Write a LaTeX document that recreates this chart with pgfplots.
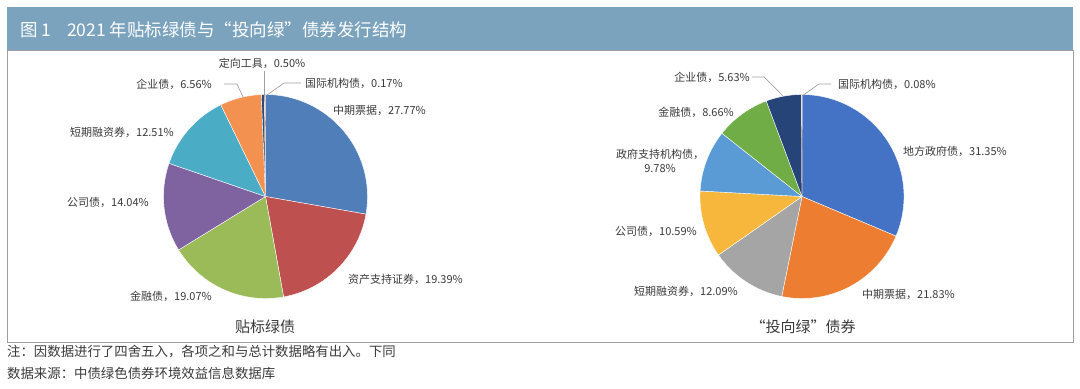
\documentclass[border=0pt]{standalone}
\usepackage{pgfplots}
\pgfplotsset{compat=1.18}
\usepackage{fontspec}
\setmainfont{Noto Sans CJK SC}
\definecolor{barbg}{HTML}{7BA3BE}
\definecolor{labc}{HTML}{3A3A3A}
\definecolor{leadc}{HTML}{A0A0A0}
% left pie
\definecolor{cA1}{HTML}{4F7EB9}
\definecolor{cA2}{HTML}{BE5050}
\definecolor{cA3}{HTML}{9BBB59}
\definecolor{cA4}{HTML}{7F63A1}
\definecolor{cA5}{HTML}{4BACC6}
\definecolor{cA6}{HTML}{F39250}
\definecolor{cA7}{HTML}{2C4D75}
\definecolor{cA8}{HTML}{772C2A}
% right pie
\definecolor{cB1}{HTML}{4472C4}
\definecolor{cB2}{HTML}{ED7D31}
\definecolor{cB3}{HTML}{A5A5A5}
\definecolor{cB4}{HTML}{F6B73C}
\definecolor{cB5}{HTML}{5B9BD5}
\definecolor{cB6}{HTML}{70AD47}
\definecolor{cB7}{HTML}{264478}
\definecolor{cB8}{HTML}{9E480E}

% \pie{cx}{cy}{r}{pct/colour,...}  (clockwise from 12 o'clock)
\newcommand\pie[4]{%
  \xdef\cum{0}%
  \foreach \p/\c in {#4} {%
    \pgfmathsetmacro\a{90-3.6*\cum}%
    \pgfmathsetmacro\b{90-3.6*(\cum+\p)}%
    \edef\temp{\noexpand\addplot[fill=\c, draw=white, line width=0.4pt, no markers,
        domain=\b:\a, samples=80, variable=\noexpand\t]
        ({#1+#3*cos(\noexpand\t)}, {#2-#3*sin(\noexpand\t)}) -- (axis cs:#1,#2) -- cycle;}%
    \temp
    \pgfmathsetmacro\newcum{\cum+\p}%
    \xdef\cum{\newcum}%
  }%
}

\begin{document}
\begin{tikzpicture}[
  lab/.style={inner sep=0pt, text=labc, font=\fontsize{11bp}{14bp}\selectfont},
  ttl/.style={inner sep=0pt, text=labc, font=\fontsize{15bp}{18bp}\selectfont},
  note/.style={inner sep=0pt, text=labc, font=\fontsize{13.4bp}{16bp}\selectfont},
  lead/.style={draw=leadc, line width=0.7pt}]
\begin{axis}[scale only axis, width=1080bp, height=388bp,
  xmin=0, xmax=1080, ymin=0, ymax=388, y dir=reverse,
  axis lines=none, ticks=none, clip=false]

% full canvas (bounding box)
\path (axis cs:0,0) rectangle (axis cs:1080,388);

% title bar and panel
\fill[barbg] (axis cs:7,7) rectangle (axis cs:1073,50);
\draw[gray!75, line width=0.8pt] (axis cs:7,50) rectangle (axis cs:1073,342);
\node[anchor=west, inner sep=0pt, text=white, font=\fontsize{17.5bp}{20bp}\selectfont]
  at (axis cs:20,30) {图 1\hspace{0.9em}2021 年贴标绿债与“投向绿”债券发行结构};

% left pie: 贴标绿债
\pie{265.5}{196.5}{102}{27.77/cA1, 19.39/cA2, 19.07/cA3, 14.04/cA4, 12.51/cA5, 6.56/cA6, 0.50/cA7, 0.17/cA8}

% right pie: 投向绿债券
\pie{802}{196.5}{102}{31.35/cB1, 21.83/cB2, 12.09/cB3, 10.59/cB4, 9.78/cB5, 8.66/cB6, 5.63/cB7, 0.08/cB8}

% left labels
\node[lab] at (axis cs:262,63) {定向工具，0.50\%};
\draw[lead] (axis cs:264,71) -- (axis cs:264,96);
\node[lab, anchor=west] at (axis cs:305,83) {国际机构债，0.17\%};
\draw[lead] (axis cs:301,83) -- (axis cs:284,83) -- (axis cs:267,95);
\node[lab, anchor=west] at (axis cs:333,110) {中期票据，27.77\%};
\node[lab, anchor=east] at (axis cs:212,84) {企业债，6.56\%};
\draw[lead] (axis cs:224,84) -- (axis cs:237,84) -- (axis cs:243,97);
\node[lab, anchor=west] at (axis cs:70,132) {短期融资券，12.51\%};
\node[lab, anchor=west] at (axis cs:67,202) {公司债，14.04\%};
\node[lab, anchor=east] at (axis cs:212,296) {金融债，19.07\%};
\node[lab, anchor=west] at (axis cs:348,279) {资产支持证券，19.39\%};
\node[ttl] at (axis cs:265,327) {贴标绿债};

% right labels
\node[lab, anchor=east] at (axis cs:750,77) {企业债，5.63\%};
\draw[lead] (axis cs:752,77) -- (axis cs:764,77) -- (axis cs:783,96);
\node[lab, anchor=west] at (axis cs:838,84) {国际机构债，0.08\%};
\draw[lead] (axis cs:831,84) -- (axis cs:819,84) -- (axis cs:802,96);
\node[lab, anchor=west] at (axis cs:903,151) {地方政府债，31.35\%};
\node[lab, anchor=east] at (axis cs:734,112) {金融债，8.66\%};
\node[lab, align=center] at (axis cs:660,161) {政府支持机构债，\\9.78\%};
\node[lab, anchor=east] at (axis cs:697,231) {公司债，10.59\%};
\node[lab, anchor=east] at (axis cs:738,291) {短期融资券，12.09\%};
\node[lab, anchor=west] at (axis cs:862,294) {中期票据，21.83\%};
\node[ttl] at (axis cs:803,327) {“投向绿”债券};

% notes
\node[note, anchor=west] at (axis cs:7,352) {注：因数据进行了四舍五入，各项之和与总计数据略有出入。下同};
\node[note, anchor=west] at (axis cs:7,373) {数据来源：中债绿色债券环境效益信息数据库};
\end{axis}
\end{tikzpicture}
\end{document}
